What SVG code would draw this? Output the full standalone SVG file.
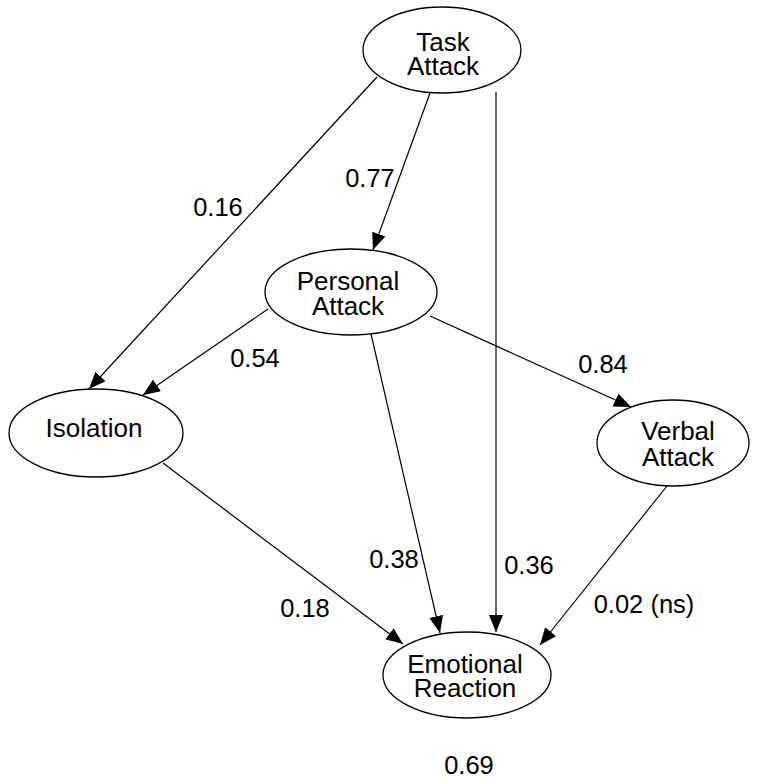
<svg xmlns="http://www.w3.org/2000/svg" width="763" height="779" viewBox="0 0 763 779">
<style>
.n ellipse{fill:#fff;stroke:#000;stroke-width:1.3}
text{font-family:"Liberation Sans",Arial,sans-serif;font-size:25.5px;fill:#000;text-anchor:middle}
.n text{font-size:26px}
.e line{stroke:#000;stroke-width:1.2}
</style>
<defs>
<marker id="ah" markerUnits="userSpaceOnUse" markerWidth="19" markerHeight="15" refX="17" refY="7" orient="auto">
<path d="M0,0 L17,7 L0,14 Z" fill="#000"/>
</marker>
</defs>
<rect width="763" height="779" fill="#fff"/>
<g class="e" id="edges">
<line x1="377" y1="77" x2="89" y2="389" marker-end="url(#ah)"/>
<line x1="430" y1="93" x2="373" y2="250" marker-end="url(#ah)"/>
<line x1="496" y1="92" x2="496" y2="632" marker-end="url(#ah)"/>
<line x1="268" y1="309" x2="143" y2="395" marker-end="url(#ah)"/>
<line x1="430" y1="316" x2="631" y2="407" marker-end="url(#ah)"/>
<line x1="371" y1="334" x2="440" y2="633" marker-end="url(#ah)"/>
<line x1="163" y1="463" x2="403" y2="644" marker-end="url(#ah)"/>
<line x1="667" y1="486" x2="540" y2="645" marker-end="url(#ah)"/>
</g>
<g id="labels">
<text x="218" y="216">0.16</text>
<text x="370" y="187">0.77</text>
<text x="255" y="367">0.54</text>
<text x="603" y="373">0.84</text>
<text x="394" y="568">0.38</text>
<text x="529" y="574">0.36</text>
<text x="305" y="617">0.18</text>
<text x="644" y="613">0.02 (ns)</text>
<text x="469" y="774">0.69</text>
</g>
<g class="n" id="task"><ellipse cx="442" cy="50" rx="79" ry="43"/><text x="443" y="51">Task</text><text x="443" y="75">Attack</text></g>
<g class="n" id="personal"><ellipse cx="351" cy="292" rx="86" ry="43"/><text x="348" y="290">Personal</text><text x="348" y="315">Attack</text></g>
<g class="n" id="isolation"><ellipse cx="96" cy="433" rx="87" ry="44"/><text x="94" y="437">Isolation</text></g>
<g class="n" id="verbal"><ellipse cx="673" cy="443" rx="76" ry="43"/><text x="678" y="440">Verbal</text><text x="678" y="466">Attack</text></g>
<g class="n" id="emotional"><ellipse cx="467" cy="675" rx="84" ry="43"/><text x="465" y="673">Emotional</text><text x="465" y="697">Reaction</text></g>
</svg>
